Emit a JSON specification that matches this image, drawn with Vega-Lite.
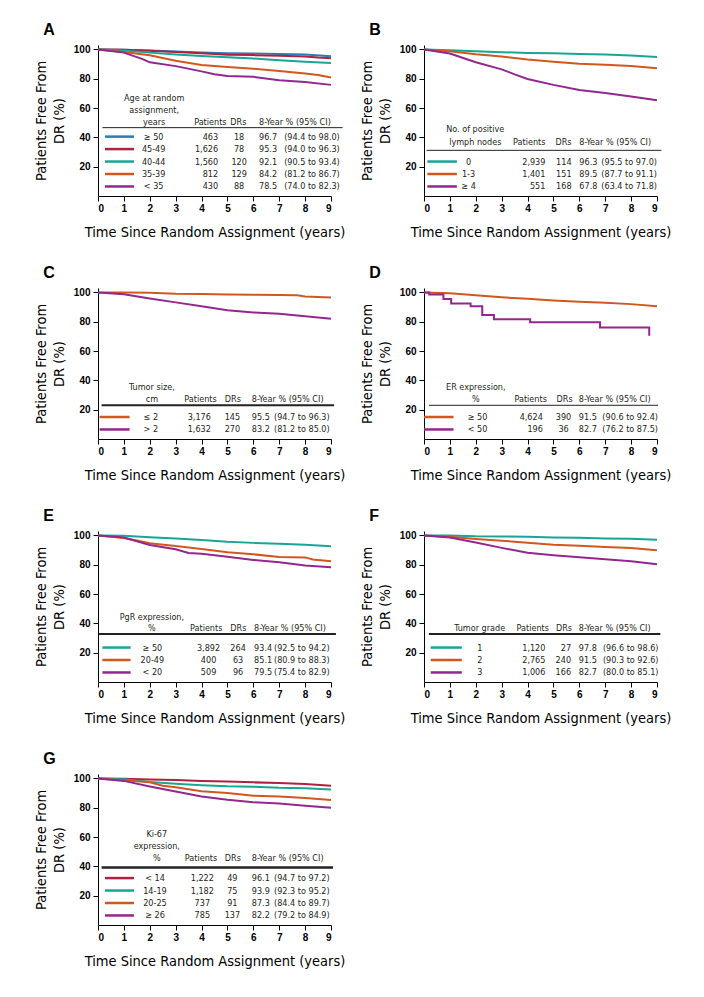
{
"$schema": "https://vega.github.io/schema/vega-lite/v6.json",
"background": "white",
"padding": {"left": 33, "top": 22, "right": 5, "bottom": 5},
"columns": 2,
"spacing": {"row": 26, "column": 14},
"resolve": {"scale": {"color": "independent"}},
"datasets": {
"curves": [
{"p":"A","g":"≥ 50","t":[0,1,2,3,4,5,6,7,8,9],"s":[100,99.7,99.2,98.5,97.9,97.4,97.2,96.9,96.6,95.3]},
{"p":"A","g":"45-49","t":[0,1,2,3,4,5,6,7,8,8.5,9],"s":[100,99.7,99.1,98.3,97.3,96.4,96.1,95.7,95.2,94.5,94.0]},
{"p":"A","g":"40-44","t":[0,1,2,3,4,5,6,7,8,9],"s":[100,99.2,97.8,96.6,95.5,94.6,93.8,92.6,91.6,90.8]},
{"p":"A","g":"35-39","t":[0,1,2,3,4,5,6,7,8,8.5,9],"s":[100,98.2,96,92.2,89.4,88,86.8,85.2,83.6,82.5,80.9]},
{"p":"A","g":"< 35","t":[0,1,1.7,2,3,4,4.5,5,6,7,8,9],"s":[100,97.8,93.5,91.2,88.6,85,83,81.8,81.3,79,77.7,75.8]},
{"p":"B","g":"0","t":[0,1,2,3,4,5,6,7,8,9],"s":[100,99.5,98.7,98.1,97.6,97.3,96.9,96.5,95.9,94.8]},
{"p":"B","g":"1-3","t":[0,1,2,3,4,5,6,7,8,9],"s":[100,98.7,96.7,95.1,93.1,91.5,90.2,89.5,88.6,87.2]},
{"p":"B","g":"≥ 4","t":[0,1,2,3,3.5,4,5,6,7,8,9],"s":[100,97.2,91.2,86.4,83,79.8,75.8,72.3,70.2,67.8,65.3]},
{"p":"C","g":"≤ 2","t":[0,1,2,3,4,5,6,7,7.7,8,9],"s":[100,100,99.7,99.1,98.9,98.5,98.4,98.2,98,97.2,96.6]},
{"p":"C","g":"> 2","t":[0,1,2,3,4,5,6,7,8,9],"s":[100,98.8,95.8,93.2,90.5,87.9,86.3,85.4,83.8,82.1]},
{"p":"D","g":"≥ 50","t":[0,1,2,3,4,5,6,7,8,9],"s":[100,99.4,98,96.7,95.6,94.5,93.6,92.9,92,90.5]},
{"p":"D","g":"< 50","t":[0,0.2,0.75,1.05,1.8,2.25,2.7,4.1,6.8,8.7],"s":[100,98.6,95.5,92.5,90.5,84.5,81.7,79.6,76,70.5]},
{"p":"E","g":"≥ 50","t":[0,1,2,3,4,5,6,7,8,9],"s":[100,99.7,98.7,97.8,96.8,95.6,94.9,94.3,93.6,92.6]},
{"p":"E","g":"20-49","t":[0,1,1.5,2,3,4,5,6,7,8,8.3,9],"s":[100,98.2,96.5,94.7,92.8,90.7,88.5,87.1,85.3,85,83.6,82.4]},
{"p":"E","g":"< 20","t":[0,1,2,3,3.5,4,5,6,7,8,9],"s":[100,98.6,93.4,90.6,88,87.4,85.5,83.3,81.7,79.4,78.3]},
{"p":"F","g":"1","t":[0,1,2,3,4,5,6,7,8,9],"s":[100,100,99.4,99.3,99.1,98.6,98.4,97.9,97.7,97]},
{"p":"F","g":"2","t":[0,1,2,3,4,5,6,7,8,9],"s":[100,99,97.6,96.4,95,93.7,93,92.1,91.4,89.8]},
{"p":"F","g":"3","t":[0,1,2,3,4,5,6,7,8,9],"s":[100,98.6,95.2,91.5,88.2,86.5,85.1,83.7,82.4,80.4]},
{"p":"G","g":"< 14","t":[0,1,2,3,4,5,6,7,8,9],"s":[100,99.8,99.3,98.9,98.2,97.8,97.3,96.8,96.1,95]},
{"p":"G","g":"14-19","t":[0,1,2,3,4,5,6,7,8,9],"s":[100,99.5,97.6,96.4,95.4,94.6,94.3,93.6,93.3,92.4]},
{"p":"G","g":"20-25","t":[0,1,2,2.5,3,4,5,6,7,8,9],"s":[100,98.8,97.3,95,94,91.2,90,88.2,87.6,86.7,85.3]},
{"p":"G","g":"≥ 26","t":[0,1,2,3,4,5,6,7,8,9],"s":[100,98.3,94.5,91,87.7,85.4,83.7,82.8,81.4,80]}
],
"table": [
{"p":"A","g":"≥ 50","n":463,"dr":18,"est":96.7,"ci":"(94.4 to 98.0)","k":4},
{"p":"A","g":"45-49","n":1626,"dr":78,"est":95.3,"ci":"(94.0 to 96.3)","k":3},
{"p":"A","g":"40-44","n":1560,"dr":120,"est":92.1,"ci":"(90.5 to 93.4)","k":2},
{"p":"A","g":"35-39","n":812,"dr":129,"est":84.2,"ci":"(81.2 to 86.7)","k":1},
{"p":"A","g":"< 35","n":430,"dr":88,"est":78.5,"ci":"(74.0 to 82.3)","k":0},
{"p":"B","g":"0","n":2939,"dr":114,"est":96.3,"ci":"(95.5 to 97.0)","k":2},
{"p":"B","g":"1-3","n":1401,"dr":151,"est":89.5,"ci":"(87.7 to 91.1)","k":1},
{"p":"B","g":"≥ 4","n":551,"dr":168,"est":67.8,"ci":"(63.4 to 71.8)","k":0},
{"p":"C","g":"≤ 2","n":3176,"dr":145,"est":95.5,"ci":"(94.7 to 96.3)","k":1},
{"p":"C","g":"> 2","n":1632,"dr":270,"est":83.2,"ci":"(81.2 to 85.0)","k":0},
{"p":"D","g":"≥ 50","n":4624,"dr":390,"est":91.5,"ci":"(90.6 to 92.4)","k":1},
{"p":"D","g":"< 50","n":196,"dr":36,"est":82.7,"ci":"(76.2 to 87.5)","k":0},
{"p":"E","g":"≥ 50","n":3892,"dr":264,"est":93.4,"ci":"(92.5 to 94.2)","k":2},
{"p":"E","g":"20-49","n":400,"dr":63,"est":85.1,"ci":"(80.9 to 88.3)","k":1},
{"p":"E","g":"< 20","n":509,"dr":96,"est":79.5,"ci":"(75.4 to 82.9)","k":0},
{"p":"F","g":"1","n":1120,"dr":27,"est":97.8,"ci":"(96.6 to 98.6)","k":2},
{"p":"F","g":"2","n":2765,"dr":240,"est":91.5,"ci":"(90.3 to 92.6)","k":1},
{"p":"F","g":"3","n":1006,"dr":166,"est":82.7,"ci":"(80.0 to 85.1)","k":0},
{"p":"G","g":"< 14","n":1222,"dr":49,"est":96.1,"ci":"(94.7 to 97.2)","k":3},
{"p":"G","g":"14-19","n":1182,"dr":75,"est":93.9,"ci":"(92.3 to 95.2)","k":2},
{"p":"G","g":"20-25","n":737,"dr":91,"est":87.3,"ci":"(84.4 to 89.7)","k":1},
{"p":"G","g":"≥ 26","n":785,"dr":137,"est":82.2,"ci":"(79.2 to 84.9)","k":0}
]
},
"concat": [
{
"title": {"text": "A"},
"width": 233, "height": 151,
"resolve": {"scale": {"y": "independent"}},
"layer": [
{"data": {"name": "curves"},
"transform": [{"filter": "datum.p == 'A'"}, {"flatten": ["t", "s"]}],
"mark": {"type": "line", "strokeWidth": 2},
"encoding": {
"x": {"field": "t", "type": "quantitative", "scale": {"domain": [0, 9]}, "axis": {"values": [0,1,2,3,4,5,6,7,8,9], "labelOverlap": false}, "title": "Time Since Random Assignment (years)"},
"y": {"field": "s", "type": "quantitative", "scale": {"domain": [0, 103]}, "axis": {"values": [20,40,60,80,100]}, "title": ["Patients Free From", "DR (%)"]},
"color": {"field": "g", "type": "nominal", "scale": {"domain": ["≥ 50","45-49","40-44","35-39","< 35"], "range": ["#2b7bb8","#b0213e","#17a596","#d2571e","#93278f"]}, "legend": null}}},
{"data": {"name": "table"},
"transform": [{"filter": "datum.p == 'A'"}],
"encoding": {"y": {"field": "k", "type": "quantitative", "scale": {"domain": [-0.765, 11.353]}, "axis": null}},
"layer": [
{"mark": {"type": "rule", "strokeWidth": 2.5}, "encoding": {"x": {"datum": 0.27}, "x2": {"datum": 1.39}, "color": {"field": "g", "type": "nominal", "legend": null}}},
{"mark": {"type": "text", "align": "center", "baseline": "middle"}, "encoding": {"x": {"datum": 2.15}, "text": {"field": "g"}}},
{"mark": {"type": "text", "align": "right", "baseline": "middle"}, "encoding": {"x": {"datum": 4.64}, "text": {"field": "n", "format": ",d"}}},
{"mark": {"type": "text", "align": "center", "baseline": "middle"}, "encoding": {"x": {"datum": 5.45}, "text": {"field": "dr"}}},
{"mark": {"type": "text", "align": "left", "baseline": "middle"}, "encoding": {"x": {"datum": 6.22}, "text": {"field": "est", "format": ".1f"}}},
{"mark": {"type": "text", "align": "left", "baseline": "middle"}, "encoding": {"x": {"datum": 7.19}, "text": {"field": "ci"}}}
]},
{"data": {"values": [{"p": "A"}]},
"layer": [
{"mark": {"type": "text", "align": "center", "baseline": "middle", "lineHeight": 12}, "encoding": {"x": {"datum": 2.17}, "y": {"datum": 7.12, "type": "quantitative", "scale": {"domain": [-0.765, 11.353]}, "axis": null}, "text": {"value": ["Age at random", "assignment,", "years"]}}},
{"mark": {"type": "text", "align": "center", "baseline": "middle"}, "encoding": {"x": {"datum": 4.34}, "y": {"datum": 5.21, "type": "quantitative", "scale": {"domain": [-0.765, 11.353]}, "axis": null}, "text": {"value": "Patients"}}},
{"mark": {"type": "text", "align": "center", "baseline": "middle"}, "encoding": {"x": {"datum": 5.42}, "y": {"datum": 5.21, "type": "quantitative", "scale": {"domain": [-0.765, 11.353]}, "axis": null}, "text": {"value": "DRs"}}},
{"mark": {"type": "text", "align": "left", "baseline": "middle"}, "encoding": {"x": {"datum": 6.22}, "y": {"datum": 5.21, "type": "quantitative", "scale": {"domain": [-0.765, 11.353]}, "axis": null}, "text": {"value": "8-Year % (95% CI)"}}},
{"mark": {"type": "rule", "color": "#222", "strokeWidth": 1}, "encoding": {"x": {"datum": 0.17}, "x2": {"datum": 9.45}, "y": {"datum": 4.72, "type": "quantitative", "scale": {"domain": [-0.765, 11.353]}, "axis": null}}}
]}
]},
{
"title": {"text": "B"},
"width": 233, "height": 151,
"resolve": {"scale": {"y": "independent"}},
"layer": [
{"data": {"name": "curves"},
"transform": [{"filter": "datum.p == 'B'"}, {"flatten": ["t", "s"]}],
"mark": {"type": "line", "strokeWidth": 2},
"encoding": {
"x": {"field": "t", "type": "quantitative", "scale": {"domain": [0, 9]}, "axis": {"values": [0,1,2,3,4,5,6,7,8,9], "labelOverlap": false}, "title": "Time Since Random Assignment (years)"},
"y": {"field": "s", "type": "quantitative", "scale": {"domain": [0, 103]}, "axis": {"values": [20,40,60,80,100]}, "title": ["Patients Free From", "DR (%)"]},
"color": {"field": "g", "type": "nominal", "scale": {"domain": ["0","1-3","≥ 4"], "range": ["#17a596","#d2571e","#93278f"]}, "legend": null}}},
{"data": {"name": "table"},
"transform": [{"filter": "datum.p == 'B'"}],
"encoding": {"y": {"field": "k", "type": "quantitative", "scale": {"domain": [-0.765, 11.353]}, "axis": null}},
"layer": [
{"mark": {"type": "rule", "strokeWidth": 2.5}, "encoding": {"x": {"datum": 0.13}, "x2": {"datum": 1.27}, "color": {"field": "g", "type": "nominal", "legend": null}}},
{"mark": {"type": "text", "align": "center", "baseline": "middle"}, "encoding": {"x": {"datum": 1.72}, "text": {"field": "g"}}},
{"mark": {"type": "text", "align": "right", "baseline": "middle"}, "encoding": {"x": {"datum": 4.69}, "text": {"field": "n", "format": ",d"}}},
{"mark": {"type": "text", "align": "right", "baseline": "middle"}, "encoding": {"x": {"datum": 5.7}, "text": {"field": "dr"}}},
{"mark": {"type": "text", "align": "left", "baseline": "middle"}, "encoding": {"x": {"datum": 6.0}, "text": {"field": "est", "format": ".1f"}}},
{"mark": {"type": "text", "align": "left", "baseline": "middle"}, "encoding": {"x": {"datum": 6.85}, "text": {"field": "ci"}}}
]},
{"data": {"values": [{"p": "B"}]},
"layer": [
{"mark": {"type": "text", "align": "center", "baseline": "middle", "lineHeight": 12.8}, "encoding": {"x": {"datum": 1.98}, "y": {"datum": 4.59, "type": "quantitative", "scale": {"domain": [-0.765, 11.353]}, "axis": null}, "text": {"value": ["No. of positive", "lymph nodes"]}}},
{"mark": {"type": "text", "align": "right", "baseline": "middle"}, "encoding": {"x": {"datum": 4.69}, "y": {"datum": 3.56, "type": "quantitative", "scale": {"domain": [-0.765, 11.353]}, "axis": null}, "text": {"value": "Patients"}}},
{"mark": {"type": "text", "align": "right", "baseline": "middle"}, "encoding": {"x": {"datum": 5.7}, "y": {"datum": 3.56, "type": "quantitative", "scale": {"domain": [-0.765, 11.353]}, "axis": null}, "text": {"value": "DRs"}}},
{"mark": {"type": "text", "align": "left", "baseline": "middle"}, "encoding": {"x": {"datum": 6.0}, "y": {"datum": 3.56, "type": "quantitative", "scale": {"domain": [-0.765, 11.353]}, "axis": null}, "text": {"value": "8-Year % (95% CI)"}}},
{"mark": {"type": "rule", "color": "#222", "strokeWidth": 1}, "encoding": {"x": {"datum": 0.1}, "x2": {"datum": 9.17}, "y": {"datum": 2.9, "type": "quantitative", "scale": {"domain": [-0.765, 11.353]}, "axis": null}}}
]}
]},
{
"title": {"text": "C"},
"width": 233, "height": 151,
"resolve": {"scale": {"y": "independent"}},
"layer": [
{"data": {"name": "curves"},
"transform": [{"filter": "datum.p == 'C'"}, {"flatten": ["t", "s"]}],
"mark": {"type": "line", "strokeWidth": 2},
"encoding": {
"x": {"field": "t", "type": "quantitative", "scale": {"domain": [0, 9]}, "axis": {"values": [0,1,2,3,4,5,6,7,8,9], "labelOverlap": false}, "title": "Time Since Random Assignment (years)"},
"y": {"field": "s", "type": "quantitative", "scale": {"domain": [0, 103]}, "axis": {"values": [20,40,60,80,100]}, "title": ["Patients Free From", "DR (%)"]},
"color": {"field": "g", "type": "nominal", "scale": {"domain": ["≤ 2","> 2"], "range": ["#d2571e","#93278f"]}, "legend": null}}},
{"data": {"name": "table"},
"transform": [{"filter": "datum.p == 'C'"}],
"encoding": {"y": {"field": "k", "type": "quantitative", "scale": {"domain": [-0.765, 11.353]}, "axis": null}},
"layer": [
{"mark": {"type": "rule", "strokeWidth": 2.5}, "encoding": {"x": {"datum": 0.06}, "x2": {"datum": 1.22}, "color": {"field": "g", "type": "nominal", "legend": null}}},
{"mark": {"type": "text", "align": "center", "baseline": "middle"}, "encoding": {"x": {"datum": 2.04}, "text": {"field": "g"}}},
{"mark": {"type": "text", "align": "right", "baseline": "middle"}, "encoding": {"x": {"datum": 4.36}, "text": {"field": "n", "format": ",d"}}},
{"mark": {"type": "text", "align": "center", "baseline": "middle"}, "encoding": {"x": {"datum": 5.19}, "text": {"field": "dr"}}},
{"mark": {"type": "text", "align": "left", "baseline": "middle"}, "encoding": {"x": {"datum": 5.94}, "text": {"field": "est", "format": ".1f"}}},
{"mark": {"type": "text", "align": "left", "baseline": "middle"}, "encoding": {"x": {"datum": 6.8}, "text": {"field": "ci"}}}
]},
{"data": {"values": [{"p": "C"}]},
"layer": [
{"mark": {"type": "text", "align": "center", "baseline": "middle", "lineHeight": 11.6}, "encoding": {"x": {"datum": 2.08}, "y": {"datum": 3.4, "type": "quantitative", "scale": {"domain": [-0.765, 11.353]}, "axis": null}, "text": {"value": ["Tumor size,", "cm"]}}},
{"mark": {"type": "text", "align": "center", "baseline": "middle"}, "encoding": {"x": {"datum": 3.96}, "y": {"datum": 2.47, "type": "quantitative", "scale": {"domain": [-0.765, 11.353]}, "axis": null}, "text": {"value": "Patients"}}},
{"mark": {"type": "text", "align": "center", "baseline": "middle"}, "encoding": {"x": {"datum": 5.21}, "y": {"datum": 2.47, "type": "quantitative", "scale": {"domain": [-0.765, 11.353]}, "axis": null}, "text": {"value": "DRs"}}},
{"mark": {"type": "text", "align": "left", "baseline": "middle"}, "encoding": {"x": {"datum": 5.94}, "y": {"datum": 2.47, "type": "quantitative", "scale": {"domain": [-0.765, 11.353]}, "axis": null}, "text": {"value": "8-Year % (95% CI)"}}},
{"mark": {"type": "rule", "color": "#222", "strokeWidth": 2}, "encoding": {"x": {"datum": 0.14}, "x2": {"datum": 9.12}, "y": {"datum": 1.94, "type": "quantitative", "scale": {"domain": [-0.765, 11.353]}, "axis": null}}}
]}
]},
{
"title": {"text": "D"},
"width": 233, "height": 151,
"resolve": {"scale": {"y": "independent"}},
"layer": [
{"data": {"name": "curves"},
"transform": [{"filter": "datum.p == 'D'"}, {"flatten": ["t", "s"]}],
"encoding": {
"x": {"field": "t", "type": "quantitative", "scale": {"domain": [0, 9]}, "axis": {"values": [0,1,2,3,4,5,6,7,8,9], "labelOverlap": false}, "title": "Time Since Random Assignment (years)"},
"y": {"field": "s", "type": "quantitative", "scale": {"domain": [0, 103]}, "axis": {"values": [20,40,60,80,100]}, "title": ["Patients Free From", "DR (%)"]},
"color": {"field": "g", "type": "nominal", "scale": {"domain": ["≥ 50","< 50"], "range": ["#d2571e","#93278f"]}, "legend": null}},
"layer": [
{"transform": [{"filter": "datum.g == '≥ 50'"}], "mark": {"type": "line", "strokeWidth": 2}},
{"transform": [{"filter": "datum.g == '< 50'"}], "mark": {"type": "line", "strokeWidth": 2, "interpolate": "step-after"}}
]},
{"data": {"name": "table"},
"transform": [{"filter": "datum.p == 'D'"}],
"encoding": {"y": {"field": "k", "type": "quantitative", "scale": {"domain": [-0.765, 11.353]}, "axis": null}},
"layer": [
{"mark": {"type": "rule", "strokeWidth": 2.5}, "encoding": {"x": {"datum": 0.0}, "x2": {"datum": 1.14}, "color": {"field": "g", "type": "nominal", "legend": null}}},
{"mark": {"type": "text", "align": "center", "baseline": "middle"}, "encoding": {"x": {"datum": 2.07}, "text": {"field": "g"}}},
{"mark": {"type": "text", "align": "right", "baseline": "middle"}, "encoding": {"x": {"datum": 4.59}, "text": {"field": "n", "format": ",d"}}},
{"mark": {"type": "text", "align": "center", "baseline": "middle"}, "encoding": {"x": {"datum": 5.39}, "text": {"field": "dr"}}},
{"mark": {"type": "text", "align": "left", "baseline": "middle"}, "encoding": {"x": {"datum": 5.98}, "text": {"field": "est", "format": ".1f"}}},
{"mark": {"type": "text", "align": "left", "baseline": "middle"}, "encoding": {"x": {"datum": 6.89}, "text": {"field": "ci"}}}
]},
{"data": {"values": [{"p": "D"}]},
"layer": [
{"mark": {"type": "text", "align": "center", "baseline": "middle", "lineHeight": 11.6}, "encoding": {"x": {"datum": 2.0}, "y": {"datum": 3.4, "type": "quantitative", "scale": {"domain": [-0.765, 11.353]}, "axis": null}, "text": {"value": ["ER expression,", "%"]}}},
{"mark": {"type": "text", "align": "center", "baseline": "middle"}, "encoding": {"x": {"datum": 4.12}, "y": {"datum": 2.47, "type": "quantitative", "scale": {"domain": [-0.765, 11.353]}, "axis": null}, "text": {"value": "Patients"}}},
{"mark": {"type": "text", "align": "center", "baseline": "middle"}, "encoding": {"x": {"datum": 5.43}, "y": {"datum": 2.47, "type": "quantitative", "scale": {"domain": [-0.765, 11.353]}, "axis": null}, "text": {"value": "DRs"}}},
{"mark": {"type": "text", "align": "left", "baseline": "middle"}, "encoding": {"x": {"datum": 5.98}, "y": {"datum": 2.47, "type": "quantitative", "scale": {"domain": [-0.765, 11.353]}, "axis": null}, "text": {"value": "8-Year % (95% CI)"}}},
{"mark": {"type": "rule", "color": "#222", "strokeWidth": 1}, "encoding": {"x": {"datum": 0.19}, "x2": {"datum": 9.04}, "y": {"datum": 1.94, "type": "quantitative", "scale": {"domain": [-0.765, 11.353]}, "axis": null}}}
]}
]},
{
"title": {"text": "E"},
"width": 233, "height": 151,
"resolve": {"scale": {"y": "independent"}},
"layer": [
{"data": {"name": "curves"},
"transform": [{"filter": "datum.p == 'E'"}, {"flatten": ["t", "s"]}],
"mark": {"type": "line", "strokeWidth": 2},
"encoding": {
"x": {"field": "t", "type": "quantitative", "scale": {"domain": [0, 9]}, "axis": {"values": [0,1,2,3,4,5,6,7,8,9], "labelOverlap": false}, "title": "Time Since Random Assignment (years)"},
"y": {"field": "s", "type": "quantitative", "scale": {"domain": [0, 103]}, "axis": {"values": [20,40,60,80,100]}, "title": ["Patients Free From", "DR (%)"]},
"color": {"field": "g", "type": "nominal", "scale": {"domain": ["≥ 50","20-49","< 20"], "range": ["#17a596","#d2571e","#93278f"]}, "legend": null}}},
{"data": {"name": "table"},
"transform": [{"filter": "datum.p == 'E'"}],
"encoding": {"y": {"field": "k", "type": "quantitative", "scale": {"domain": [-0.765, 11.353]}, "axis": null}},
"layer": [
{"mark": {"type": "rule", "strokeWidth": 2.5}, "encoding": {"x": {"datum": 0.17}, "x2": {"datum": 1.26}, "color": {"field": "g", "type": "nominal", "legend": null}}},
{"mark": {"type": "text", "align": "center", "baseline": "middle"}, "encoding": {"x": {"datum": 2.1}, "text": {"field": "g"}}},
{"mark": {"type": "text", "align": "center", "baseline": "middle"}, "encoding": {"x": {"datum": 4.27}, "text": {"field": "n", "format": ",d"}}},
{"mark": {"type": "text", "align": "center", "baseline": "middle"}, "encoding": {"x": {"datum": 5.41}, "text": {"field": "dr"}}},
{"mark": {"type": "text", "align": "left", "baseline": "middle"}, "encoding": {"x": {"datum": 6.03}, "text": {"field": "est", "format": ".1f"}}},
{"mark": {"type": "text", "align": "left", "baseline": "middle"}, "encoding": {"x": {"datum": 6.8}, "text": {"field": "ci"}}}
]},
{"data": {"values": [{"p": "E"}]},
"layer": [
{"mark": {"type": "text", "align": "center", "baseline": "middle", "lineHeight": 11}, "encoding": {"x": {"datum": 2.08}, "y": {"datum": 4.42, "type": "quantitative", "scale": {"domain": [-0.765, 11.353]}, "axis": null}, "text": {"value": ["PgR expression,", "%"]}}},
{"mark": {"type": "text", "align": "center", "baseline": "middle"}, "encoding": {"x": {"datum": 4.18}, "y": {"datum": 3.54, "type": "quantitative", "scale": {"domain": [-0.765, 11.353]}, "axis": null}, "text": {"value": "Patients"}}},
{"mark": {"type": "text", "align": "center", "baseline": "middle"}, "encoding": {"x": {"datum": 5.42}, "y": {"datum": 3.54, "type": "quantitative", "scale": {"domain": [-0.765, 11.353]}, "axis": null}, "text": {"value": "DRs"}}},
{"mark": {"type": "text", "align": "left", "baseline": "middle"}, "encoding": {"x": {"datum": 6.03}, "y": {"datum": 3.54, "type": "quantitative", "scale": {"domain": [-0.765, 11.353]}, "axis": null}, "text": {"value": "8-Year % (95% CI)"}}},
{"mark": {"type": "rule", "color": "#222", "strokeWidth": 2}, "encoding": {"x": {"datum": 0.04}, "x2": {"datum": 9.19}, "y": {"datum": 3.08, "type": "quantitative", "scale": {"domain": [-0.765, 11.353]}, "axis": null}}}
]}
]},
{
"title": {"text": "F"},
"width": 233, "height": 151,
"resolve": {"scale": {"y": "independent"}},
"layer": [
{"data": {"name": "curves"},
"transform": [{"filter": "datum.p == 'F'"}, {"flatten": ["t", "s"]}],
"mark": {"type": "line", "strokeWidth": 2},
"encoding": {
"x": {"field": "t", "type": "quantitative", "scale": {"domain": [0, 9]}, "axis": {"values": [0,1,2,3,4,5,6,7,8,9], "labelOverlap": false}, "title": "Time Since Random Assignment (years)"},
"y": {"field": "s", "type": "quantitative", "scale": {"domain": [0, 103]}, "axis": {"values": [20,40,60,80,100]}, "title": ["Patients Free From", "DR (%)"]},
"color": {"field": "g", "type": "nominal", "scale": {"domain": ["1","2","3"], "range": ["#17a596","#d2571e","#93278f"]}, "legend": null}}},
{"data": {"name": "table"},
"transform": [{"filter": "datum.p == 'F'"}],
"encoding": {"y": {"field": "k", "type": "quantitative", "scale": {"domain": [-0.765, 11.353]}, "axis": null}},
"layer": [
{"mark": {"type": "rule", "strokeWidth": 2.5}, "encoding": {"x": {"datum": 0.26}, "x2": {"datum": 1.46}, "color": {"field": "g", "type": "nominal", "legend": null}}},
{"mark": {"type": "text", "align": "center", "baseline": "middle"}, "encoding": {"x": {"datum": 2.16}, "text": {"field": "g"}}},
{"mark": {"type": "text", "align": "right", "baseline": "middle"}, "encoding": {"x": {"datum": 4.69}, "text": {"field": "n", "format": ",d"}}},
{"mark": {"type": "text", "align": "right", "baseline": "middle"}, "encoding": {"x": {"datum": 5.68}, "text": {"field": "dr"}}},
{"mark": {"type": "text", "align": "left", "baseline": "middle"}, "encoding": {"x": {"datum": 5.98}, "text": {"field": "est", "format": ".1f"}}},
{"mark": {"type": "text", "align": "left", "baseline": "middle"}, "encoding": {"x": {"datum": 6.91}, "text": {"field": "ci"}}}
]},
{"data": {"values": [{"p": "F"}]},
"layer": [
{"mark": {"type": "text", "align": "center", "baseline": "middle"}, "encoding": {"x": {"datum": 2.15}, "y": {"datum": 3.54, "type": "quantitative", "scale": {"domain": [-0.765, 11.353]}, "axis": null}, "text": {"value": "Tumor grade"}}},
{"mark": {"type": "text", "align": "center", "baseline": "middle"}, "encoding": {"x": {"datum": 4.2}, "y": {"datum": 3.54, "type": "quantitative", "scale": {"domain": [-0.765, 11.353]}, "axis": null}, "text": {"value": "Patients"}}},
{"mark": {"type": "text", "align": "center", "baseline": "middle"}, "encoding": {"x": {"datum": 5.41}, "y": {"datum": 3.54, "type": "quantitative", "scale": {"domain": [-0.765, 11.353]}, "axis": null}, "text": {"value": "DRs"}}},
{"mark": {"type": "text", "align": "left", "baseline": "middle"}, "encoding": {"x": {"datum": 5.98}, "y": {"datum": 3.54, "type": "quantitative", "scale": {"domain": [-0.765, 11.353]}, "axis": null}, "text": {"value": "8-Year % (95% CI)"}}},
{"mark": {"type": "rule", "color": "#222", "strokeWidth": 2}, "encoding": {"x": {"datum": 0.19}, "x2": {"datum": 9.13}, "y": {"datum": 3.08, "type": "quantitative", "scale": {"domain": [-0.765, 11.353]}, "axis": null}}}
]}
]},
{
"title": {"text": "G"},
"width": 233, "height": 151,
"resolve": {"scale": {"y": "independent"}},
"layer": [
{"data": {"name": "curves"},
"transform": [{"filter": "datum.p == 'G'"}, {"flatten": ["t", "s"]}],
"mark": {"type": "line", "strokeWidth": 2},
"encoding": {
"x": {"field": "t", "type": "quantitative", "scale": {"domain": [0, 9]}, "axis": {"values": [0,1,2,3,4,5,6,7,8,9], "labelOverlap": false}, "title": "Time Since Random Assignment (years)"},
"y": {"field": "s", "type": "quantitative", "scale": {"domain": [0, 103]}, "axis": {"values": [20,40,60,80,100]}, "title": ["Patients Free From", "DR (%)"]},
"color": {"field": "g", "type": "nominal", "scale": {"domain": ["< 14","14-19","20-25","≥ 26"], "range": ["#b0213e","#17a596","#d2571e","#93278f"]}, "legend": null}}},
{"data": {"name": "table"},
"transform": [{"filter": "datum.p == 'G'"}],
"encoding": {"y": {"field": "k", "type": "quantitative", "scale": {"domain": [-0.765, 11.353]}, "axis": null}},
"layer": [
{"mark": {"type": "rule", "strokeWidth": 2.5}, "encoding": {"x": {"datum": 0.27}, "x2": {"datum": 1.39}, "color": {"field": "g", "type": "nominal", "legend": null}}},
{"mark": {"type": "text", "align": "center", "baseline": "middle"}, "encoding": {"x": {"datum": 2.2}, "text": {"field": "g"}}},
{"mark": {"type": "text", "align": "center", "baseline": "middle"}, "encoding": {"x": {"datum": 4.03}, "text": {"field": "n", "format": ",d"}}},
{"mark": {"type": "text", "align": "center", "baseline": "middle"}, "encoding": {"x": {"datum": 5.19}, "text": {"field": "dr"}}},
{"mark": {"type": "text", "align": "left", "baseline": "middle"}, "encoding": {"x": {"datum": 5.94}, "text": {"field": "est", "format": ".1f"}}},
{"mark": {"type": "text", "align": "left", "baseline": "middle"}, "encoding": {"x": {"datum": 6.8}, "text": {"field": "ci"}}}
]},
{"data": {"values": [{"p": "G"}]},
"layer": [
{"mark": {"type": "text", "align": "center", "baseline": "middle", "lineHeight": 12.2}, "encoding": {"x": {"datum": 2.27}, "y": {"datum": 6.54, "type": "quantitative", "scale": {"domain": [-0.765, 11.353]}, "axis": null}, "text": {"value": ["Ki-67", "expression,", "%"]}}},
{"mark": {"type": "text", "align": "center", "baseline": "middle"}, "encoding": {"x": {"datum": 3.98}, "y": {"datum": 4.59, "type": "quantitative", "scale": {"domain": [-0.765, 11.353]}, "axis": null}, "text": {"value": "Patients"}}},
{"mark": {"type": "text", "align": "center", "baseline": "middle"}, "encoding": {"x": {"datum": 5.21}, "y": {"datum": 4.59, "type": "quantitative", "scale": {"domain": [-0.765, 11.353]}, "axis": null}, "text": {"value": "DRs"}}},
{"mark": {"type": "text", "align": "left", "baseline": "middle"}, "encoding": {"x": {"datum": 5.94}, "y": {"datum": 4.59, "type": "quantitative", "scale": {"domain": [-0.765, 11.353]}, "axis": null}, "text": {"value": "8-Year % (95% CI)"}}},
{"mark": {"type": "rule", "color": "#222", "strokeWidth": 2.5}, "encoding": {"x": {"datum": 0.14}, "x2": {"datum": 9.08}, "y": {"datum": 3.84, "type": "quantitative", "scale": {"domain": [-0.765, 11.353]}, "axis": null}}}
]}
]}
],
"config": {
"font": "Liberation Sans",
"view": {"stroke": null},
"axis": {"grid": false, "domainColor": "#000", "tickColor": "#000", "labelColor": "#000", "titleColor": "#000", "labelFont": "Liberation Sans", "labelFontSize": 10, "labelFontWeight": "bold", "titleFont": "DejaVu Sans Condensed", "titleFontSize": 14.5, "titleFontWeight": "normal", "tickSize": 5, "domainWidth": 1, "tickWidth": 1},
"axisY": {"titlePadding": 7, "labelPadding": 3, "titleLineHeight": 18},
"axisX": {"titlePadding": 12, "labelPadding": 2, "tickCount": 10, "labelOverlap": false},
"title": {"fontSize": 16, "fontWeight": "bold", "anchor": "start", "color": "#000", "font": "Liberation Sans", "dx": 10, "offset": 6},
"text": {"font": "DejaVu Sans Condensed", "fontSize": 9, "color": "#231f20"}
}
}
